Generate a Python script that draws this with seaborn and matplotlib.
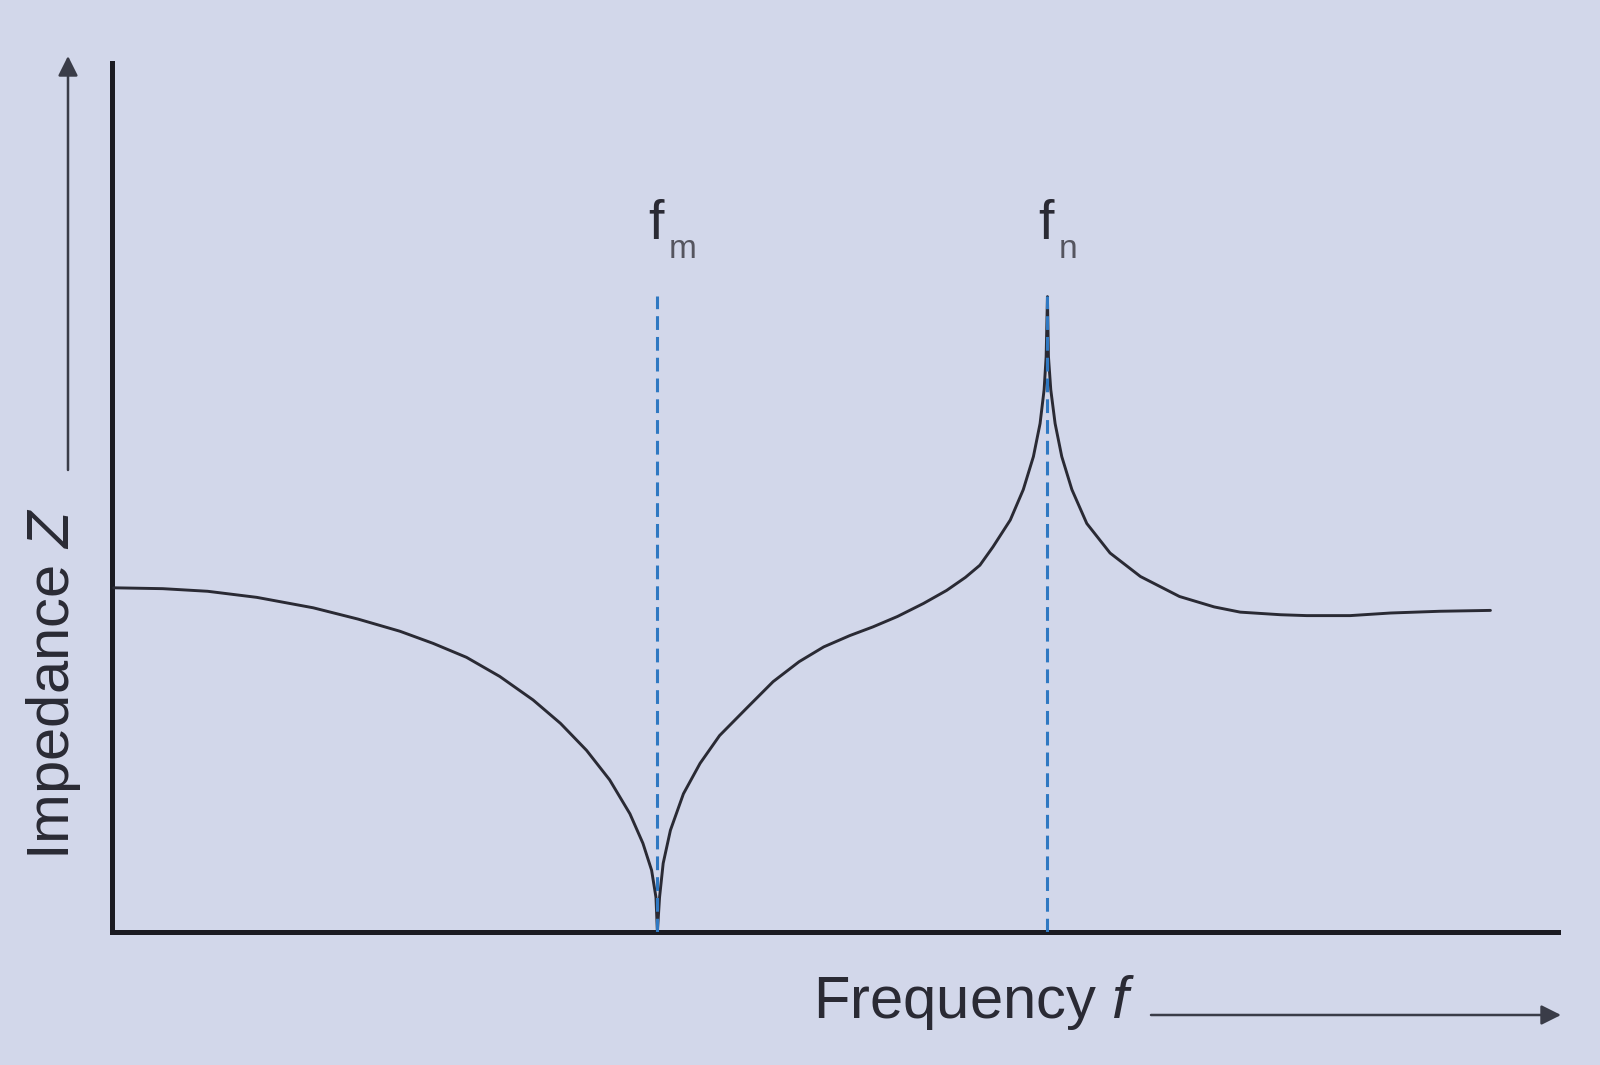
import matplotlib
matplotlib.use("Agg")
import matplotlib.pyplot as plt
import seaborn as sns
import pandas as pd

# ---- data (arbitrary units) ----
frequency = [0.1, 3.5, 6.6, 10.0, 13.9, 17.0, 19.9, 22.2, 24.5, 26.8,
             29.1, 31.0, 32.8, 34.4, 35.8, 36.7, 37.3, 37.6, 37.7, 37.85,
             38.1, 38.6, 39.5, 40.65, 42.0, 43.9, 45.7, 47.5, 49.2, 51.0,
             52.6, 54.3, 56.1, 57.7, 59.0, 60.0, 60.9, 62.1, 63.0, 63.7,
             64.16, 64.44, 64.58, 64.67, 64.74, 64.90, 65.20, 65.66, 66.36, 67.39,
             69.0, 71.1, 73.8, 76.2, 78.0, 80.8, 82.6, 85.6, 88.4, 91.8,
             95.3]
impedance = [39.6, 39.5, 39.2, 38.5, 37.3, 36.0, 34.6, 33.2, 31.6, 29.4,
             26.7, 24.0, 20.9, 17.5, 13.6, 10.2, 7.1, 4.0, 0.0, 4.0,
             7.9, 11.7, 15.9, 19.4, 22.6, 25.8, 28.8, 31.1, 32.8, 34.1,
             35.1, 36.3, 37.8, 39.3, 40.8, 42.2, 44.3, 47.4, 50.9, 54.7,
             58.5, 62.4, 66.2, 73.1, 66.2, 62.4, 58.5, 54.7, 50.9, 47.0,
             43.6, 40.9, 38.6, 37.4, 36.8, 36.5, 36.4, 36.4, 36.7, 36.9,
             37.0]
marker_freqs = [37.7, 64.67]
marker_labels = ["m", "n"]
marker_top = 73.2

BG = "#d2d7ea"
INK = "#2a2a34"
BLUE = "#2f78c2"

sns.set_theme(style="white")
plt.rcParams["font.family"] = ["Liberation Sans", "DejaVu Sans"]
plt.rcParams["mathtext.fontset"] = "custom"
plt.rcParams["mathtext.rm"] = "Liberation Sans"
plt.rcParams["mathtext.it"] = "Liberation Sans:italic"

fig = plt.figure(figsize=(16, 10.65), dpi=100, facecolor=BG)
ax = fig.add_axes([0.0701, 0.1249, 0.9039, 0.8161])
ax.set_facecolor(BG)

df = pd.DataFrame({"f": frequency, "Z": impedance})
sns.lineplot(data=df, x="f", y="Z", sort=False, estimator=None, ax=ax,
             color=INK, linewidth=2.1, zorder=3)

ax.vlines(marker_freqs, 0, marker_top, colors=BLUE, linewidth=2.2,
          linestyles=(0, (4.5, 2.3)), zorder=4)

for fx, lab in zip(marker_freqs, marker_labels):
    ax.text(fx + 0.45, 79.7, "f", ha="right", va="baseline", fontsize=40, color=INK)
    ax.text(fx + 0.75, 77.6, lab, ha="left", va="baseline", fontsize=24, color="#55555f")

ax.set_xlim(0, 100)
ax.set_ylim(0, 100)
ax.set_xlabel("")
ax.set_ylabel("")
ax.set_xticks([])
ax.set_yticks([])
for s in ["top", "right"]:
    ax.spines[s].set_visible(False)
for s in ["left", "bottom"]:
    ax.spines[s].set_color("#1b1b22")
    ax.spines[s].set_linewidth(3.6)
    ax.spines[s].set_capstyle("projecting")

# axis titles with arrows
fig.text(813 / 1600, 1 - 1018 / 1065, "Frequency $f$", ha="left", va="baseline",
         fontsize=43, color=INK)
fig.text(54 / 1600, 1 - 684 / 1065, "Impedance $Z$", ha="center", va="center",
         rotation=90, fontsize=43, color=INK)

arrow_kw = dict(arrowstyle="-|>", color="#3a3c48", lw=1.8, mutation_scale=30,
                shrinkA=0, shrinkB=0)
ax.annotate("", xy=(1561, 1065 - 1015), xytext=(1151, 1065 - 1015),
            xycoords="figure pixels", textcoords="figure pixels",
            arrowprops=arrow_kw, annotation_clip=False)
ax.annotate("", xy=(68, 1065 - 56), xytext=(68, 1065 - 470),
            xycoords="figure pixels", textcoords="figure pixels",
            arrowprops=arrow_kw, annotation_clip=False)

fig.savefig("out.png", dpi=100, facecolor=BG)
